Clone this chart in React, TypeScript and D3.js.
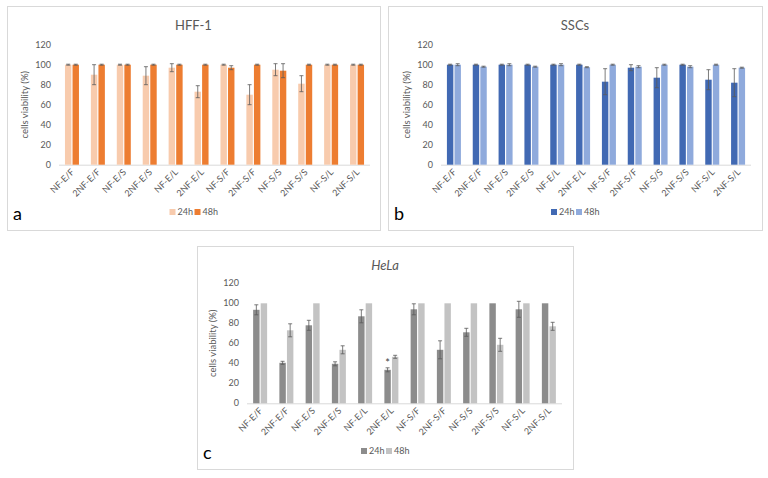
import * as d3 from 'd3';
import React from 'react';

const categories = ['NF-E/F', '2NF-E/F', 'NF-E/S', '2NF-E/S', 'NF-E/L', '2NF-E/L', 'NF-S/F', '2NF-S/F', 'NF-S/S', '2NF-S/S', 'NF-S/L', '2NF-S/L'];
const seriesNames = ['24h', '48h'];
const yTicks = [0, 20, 40, 60, 80, 100, 120];

// HFF-1
const hffMean24 = [100, 90, 100, 89, 97, 73, 100, 70, 95, 81, 100, 100];
const hffErr24 = [0.5, 10, 0.5, 9, 4, 6, 0.5, 10, 6, 8, 0.5, 0.5];
const hffMean48 = [100, 100, 100, 100, 100, 100, 97, 100, 94, 100, 100, 100];
const hffErr48 = [0.5, 0.5, 0.5, 0.5, 0.5, 0.5, 2, 0.5, 7, 0.5, 0.5, 0.5];

// SSCs
const sscMean24 = [100, 100, 100, 100, 100, 100, 83, 97, 87, 100, 85, 82];
const sscErr24 = [0.5, 0.5, 0.5, 0.5, 0.5, 0.5, 13, 3, 10, 0.5, 10, 14];
const sscMean48 = [100, 98, 100, 98, 100, 97.5, 100, 98, 100, 98, 100, 97];
const sscErr48 = [1, 0.5, 1, 0.5, 1, 0.5, 0.5, 1, 0.5, 1, 0.5, 0.5];

// HeLa
const helaMean24 = [93.5, 40.5, 78, 39.5, 87, 33.5, 94, 53.5, 71, 100, 94, 100];
const helaErr24 = [5, 1.5, 5, 2, 6.5, 2, 5.5, 9, 4, 0, 8, 0];
const helaMean48 = [100, 73, 100, 53.5, 100, 46.5, 100, 100, 100, 58.5, 100, 77];
const helaErr48 = [0, 6.5, 0, 4, 0, 1.5, 0, 0, 0, 6.5, 0, 4];
const helaMarks = ['', '', '', '', '', '*', '', '', '', '', '', ''];

const font = 'Lato, "Open Sans", sans-serif';
const textGray = '#595959';

const Panel = ({ box, plot, title, italic, letter, colors, mean24, err24, mean48, err48, marks }) => {
  const x0 = d3.scaleBand().domain(categories).range([plot.left, plot.right]);
  const y = d3.scaleLinear().domain([0, 120]).range([plot.bottom, plot.top]);
  const means = [mean24, mean48];
  const errs = [err24, err48];
  const cx = box.x + box.w / 2;

  return (
    <g>
      <rect x={box.x + 0.5} y={box.y + 0.5} width={box.w} height={box.h} fill="#fff" stroke="#d9d9d9" />
      <text x={cx} y={box.y + 24} textAnchor="middle" fontSize={13} fill={textGray} fontStyle={italic ? 'italic' : 'normal'}>
        {title}
      </text>
      {yTicks.map((t) => (
        <text key={t} x={plot.left - 8} y={y(t) + 3} textAnchor="end" fontSize={9} fill={textGray}>
          {t}
        </text>
      ))}
      <text
        transform={`translate(${plot.left - 31},${(plot.top + plot.bottom) / 2}) rotate(-90)`}
        textAnchor="middle"
        fontSize={9.5}
        fill={textGray}
      >
        cells viability (%)
      </text>
      <line x1={plot.left} x2={plot.right} y1={plot.bottom + 0.5} y2={plot.bottom + 0.5} stroke="#d9d9d9" />
      {categories.map((c, i) => {
        const center = x0(c) + x0.bandwidth() / 2;
        const x1 = d3.scaleBand().domain(seriesNames).range([center - 7, center + 7]).paddingInner(0.15);
        return (
          <g key={c}>
            {seriesNames.map((s, si) => {
              const v = means[si][i];
              const e = errs[si][i];
              const bx = x1(s);
              const mid = bx + x1.bandwidth() / 2;
              return (
                <g key={s}>
                  <rect x={bx} y={y(v)} width={x1.bandwidth()} height={y(0) - y(v)} fill={colors[si]} />
                  {e > 0 && (
                    <g stroke="#5a5a5a" strokeWidth={0.8}>
                      <line x1={mid} x2={mid} y1={y(v - e)} y2={y(v + e)} />
                      <line x1={mid - 2} x2={mid + 2} y1={y(v + e)} y2={y(v + e)} />
                      <line x1={mid - 2} x2={mid + 2} y1={y(v - e)} y2={y(v - e)} />
                    </g>
                  )}
                  {si === 0 && marks && marks[i] && (
                    <text x={mid} y={y(v + e) - 1} textAnchor="middle" fontSize={11} fill="#404040">
                      {marks[i]}
                    </text>
                  )}
                </g>
              );
            })}
            <text
              transform={`translate(${center + 3},${plot.bottom + 8}) rotate(-45)`}
              textAnchor="end"
              fontSize={9}
              fill={textGray}
            >
              {c}
            </text>
          </g>
        );
      })}
      {seriesNames.map((s, si) => (
        <g key={s} transform={`translate(${cx - 24 + si * 25},${box.y + box.h - 15})`}>
          <rect x={0} y={-6} width={6} height={6} fill={colors[si]} />
          <text x={8} y={0} fontSize={9} fill={textGray}>
            {s}
          </text>
        </g>
      ))}
      <text x={box.x + 6} y={box.y + box.h - 10} fontSize={18} fill="#000">
        {letter}
      </text>
    </g>
  );
};

export default function App() {
  return (
    <svg width={768} height={478} style={{ position: 'absolute', left: 0, top: 0, fontFamily: font }}>
      <rect width={768} height={478} fill="#fff" />
      <Panel
        box={{ x: 7, y: 6, w: 373, h: 224 }}
        plot={{ left: 59, right: 370, top: 44.7, bottom: 164.7 }}
        title="HFF-1"
        letter="a"
        colors={['#f8cbad', '#ed7d31']}
        mean24={hffMean24}
        err24={hffErr24}
        mean48={hffMean48}
        err48={hffErr48}
      />
      <Panel
        box={{ x: 388, y: 6, w: 374, h: 224 }}
        plot={{ left: 441, right: 751, top: 44.7, bottom: 164.7 }}
        title="SSCs"
        letter="b"
        colors={['#4169b3', '#8faadc']}
        mean24={sscMean24}
        err24={sscErr24}
        mean48={sscMean48}
        err48={sscErr48}
      />
      <Panel
        box={{ x: 197, y: 246, w: 376, h: 223 }}
        plot={{ left: 247, right: 562, top: 283.3, bottom: 403.3 }}
        title="HeLa"
        italic
        letter="c"
        colors={['#8c8c8c', '#c3c3c3']}
        mean24={helaMean24}
        err24={helaErr24}
        mean48={helaMean48}
        err48={helaErr48}
        marks={helaMarks}
      />
    </svg>
  );
}
